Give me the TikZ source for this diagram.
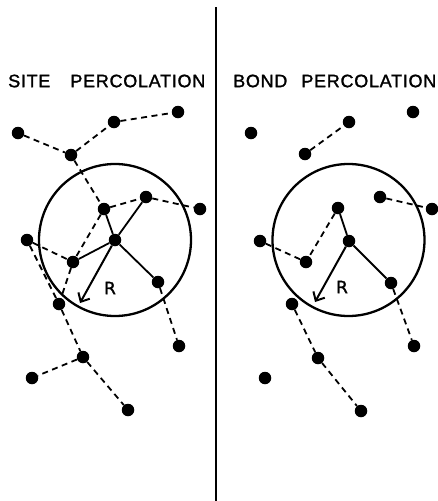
\documentclass[tikz,border=0pt]{standalone}
\usepackage{fontspec}
\newfontfamily\lab[LetterSpace=4,FakeBold=1.5]{Liberation Sans}
\newfontfamily\rlab[FakeBold=1.5]{DejaVu Sans}
\usetikzlibrary{arrows.meta}
\tikzset{
  site/.style={circle,fill=black,inner sep=0pt,minimum size=12.5pt},
  bnd/.style={line width=1.8pt,dash pattern=on 6pt off 4.5pt},
  occ/.style={line width=1.8pt},
  ring/.style={line width=2.3pt},
  rad/.style={line width=2pt,-{Straight Barb[length=7pt,width=13pt,line width=2pt]}},
  ttl/.style={anchor=west,inner sep=0pt,font=\lab\fontsize{18pt}{18pt}\selectfont},
  rlb/.style={inner sep=0pt,font=\rlab\fontsize{17pt}{17pt}\selectfont}
}
\begin{document}
\begin{tikzpicture}[x=1pt,y=-1pt]
\useasboundingbox (0,0) rectangle (437,501);
\fill[white] (0,0) rectangle (437,501);
% divider
\coordinate (dtop) at (216,7);
\coordinate (dbot) at (216,501);
\draw[line width=2.6pt] (dtop) -- (dbot);
% titles
\node[ttl] (t1) at (8,81) {SITE\hspace{20pt}PERCOLATION};
\node[ttl] (t2) at (233,81) {BOND\hspace{14pt}PERCOLATION};
% ---------- left: site percolation ----------
\draw[ring] (115,240) circle[radius=76];
\node[site] (a1) at (18,133) {};
\node[site] (a2) at (71,155) {};
\node[site] (a3) at (114,122) {};
\node[site] (a4) at (178,112) {};
\node[site] (b1) at (104,209) {};
\node[site] (b2) at (146,197) {};
\node[site] (b3) at (200,209) {};
\node[site] (c) at (115,240) {};
\node[site] (d1) at (27,240) {};
\node[site] (d2) at (73,262) {};
\node[site] (e) at (158,282) {};
\node[site] (f) at (59,304) {};
\node[site] (g) at (179,346) {};
\node[site] (h) at (83,357) {};
\node[site] (i) at (32,378) {};
\node[site] (j) at (128,410) {};
\coordinate (ar) at (80,303);
\draw[bnd] (a1) -- (a2);
\draw[bnd] (a2) -- (a3);
\draw[bnd] (a3) -- (a4);
\draw[bnd] (a2) -- (b1);
\draw[bnd] (b1) -- (b2);
\draw[bnd] (b2) -- (b3);
\draw[bnd] (b1) -- (d2);
\draw[bnd] (d1) -- (d2);
\draw[bnd] (d2) -- (f);
\draw[bnd] (d1) -- (f);
\draw[bnd] (f) -- (h);
\draw[bnd] (h) -- (i);
\draw[bnd] (h) -- (j);
\draw[bnd] (e) -- (g);
\draw[occ] (c) -- (b1);
\draw[occ] (c) -- (b2);
\draw[occ] (c) -- (d2);
\draw[occ] (c) -- (e);
\draw[rad] (c) -- (ar);
\node[rlb] (r1) at (110,288) {R};
% ---------- right: bond percolation ----------
\draw[ring] (348.5,240) circle[radius=76];
\node[site] (p1) at (251,133) {};
\node[site] (p2) at (305,154) {};
\node[site] (p3) at (349,122) {};
\node[site] (p4) at (413,112) {};
\node[site] (q1) at (338,208) {};
\node[site] (q2) at (380,197) {};
\node[site] (q3) at (432,209) {};
\node[site] (cr) at (349,241) {};
\node[site] (s1) at (260,241) {};
\node[site] (s2) at (306,262) {};
\node[site] (er) at (391,283) {};
\node[site] (fr) at (292,304) {};
\node[site] (gr) at (414,346) {};
\node[site] (hr) at (318,358) {};
\node[site] (ir) at (265,378) {};
\node[site] (jr) at (361,411) {};
\coordinate (arr) at (315,302);
\draw[bnd] (p2) -- (p3);
\draw[bnd] (q2) -- (q3);
\draw[bnd] (q1) -- (s2);
\draw[bnd] (s1) -- (s2);
\draw[bnd] (er) -- (gr);
\draw[bnd] (fr) -- (hr);
\draw[bnd] (hr) -- (jr);
\draw[occ] (cr) -- (q1);
\draw[occ] (cr) -- (er);
\draw[rad] (cr) -- (arr);
\node[rlb] (r2) at (342,287) {R};
\end{tikzpicture}
\end{document}
